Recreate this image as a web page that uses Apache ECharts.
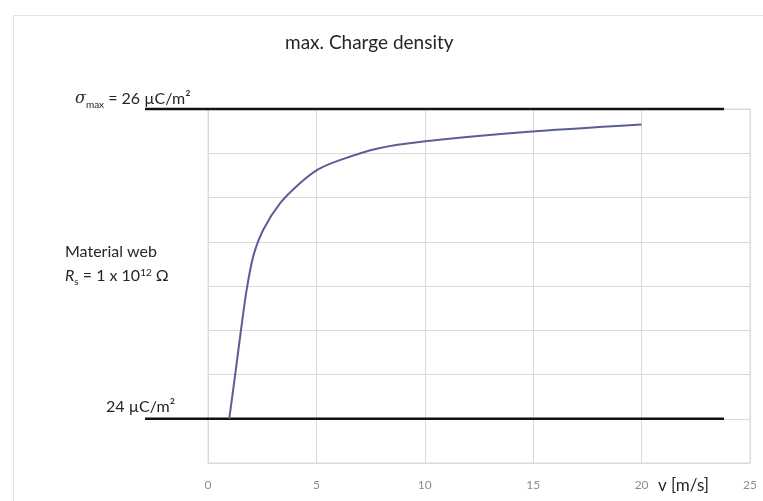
<!DOCTYPE html>
<html>
<head>
<meta charset="utf-8">
<title>max. Charge density</title>
<script src="https://cdn.jsdelivr.net/npm/echarts@6/dist/echarts.min.js"></script>
<style>
  html, body { margin: 0; padding: 0; background: #fff; }
  #chart { width: 763px; height: 501px; }
</style>
</head>
<body>
<div id="chart"></div>
<script>
// 曲线数据 v [m/s] -> 电荷密度 [µC/m²]
var speed  = [0.98, 1.24, 1.5, 1.78, 2.09, 2.55, 3.32, 4.24, 5.08, 6.08, 7.83, 9.92, 14.5, 20];
var charge = [24.00, 24.27, 24.55, 24.83, 25.05, 25.22, 25.39, 25.52, 25.61, 25.67, 25.745, 25.79, 25.85, 25.90];

// 两条参考线（26 和 24 µC/m²），左端伸出绘图区
var refX    = [-2.9, 23.8];
var refHigh = 26;
var refLow  = 24;

// x 轴刻度
var xTicks = [0, 5, 10, 15, 20, 25];

// y 轴网格：8 格，24 在第一条网格线上，26 在顶端
var yStep = 2 / 7;
var yMin  = 83 * yStep;
var yMax  = 26;

var chart = echarts.init(document.getElementById('chart'));

var curveData = speed.map(function (v, i) { return [v, charge[i]]; });

var txt = '#262626';
var font = 'Lato, "Open Sans", sans-serif';

function rt(size, extra) {
  var s = { fontFamily: font, fontSize: size, fontWeight: 'normal', color: txt, lineHeight: 20, verticalAlign: 'bottom' };
  for (var k in extra) { s[k] = extra[k]; }
  return s;
}

var option = {
  animation: false,
  backgroundColor: '#fff',
  graphic: [{
    type: 'rect',
    left: 11, top: 13,
    shape: { width: 760, height: 495 },
    style: { fill: 'none', stroke: '#e3e3e3', lineWidth: 1 },
    silent: true
  }],
  title: [{
    text: 'max. Charge density',
    left: 285, top: 33, padding: 0,
    textStyle: { fontFamily: font, fontSize: 19, fontWeight: 'normal', color: txt }
  }, {
    text: '{i|σ}{sub|max}{n| = 26 µC/m²}',
    left: 75, top: 87, padding: 0,
    textStyle: {
      fontWeight: 'normal',
      rich: {
        i: rt(16, { fontFamily: '"DejaVu Serif", serif', fontStyle: 'italic' }),
        sub: rt(10, { padding: [0, 0, -3, 0] }),
        n: rt(16, {})
      }
    }
  }, {
    text: 'Material web',
    left: 65, top: 244, padding: 0,
    textStyle: { fontFamily: font, fontSize: 16, fontWeight: 'normal', color: txt }
  }, {
    text: '{i|R}{sub|s}{n| = 1 x 10}{sup|12}{n| Ω}',
    left: 65, top: 264, padding: 0,
    textStyle: {
      fontWeight: 'normal',
      rich: {
        i: rt(16, { fontStyle: 'italic' }),
        sub: rt(10, { padding: [0, 0, -3, 0] }),
        sup: rt(10, { padding: [0, 0, 6, 0] }),
        n: rt(16, {})
      }
    }
  }, {
    text: '24 µC/m²',
    left: 106, top: 399, padding: 0,
    textStyle: { fontFamily: font, fontSize: 16, fontWeight: 'normal', color: txt }
  }, {
    text: 'v [m/s]',
    left: 658, top: 477, padding: 0,
    textStyle: { fontFamily: font, fontSize: 17, fontWeight: 'normal', color: txt }
  }],
  grid: [{
    left: 208, right: 13, top: 109, bottom: 38,
    show: true, borderColor: '#d9d9d9', borderWidth: 1
  }, {
    // 参考线用的网格：与主网格同比例，只是向左延伸到 -2.9
    left: 145, right: 13, top: 109, bottom: 38
  }],
  xAxis: [{
    type: 'value',
    gridIndex: 0,
    min: xTicks[0], max: xTicks[xTicks.length - 1], interval: 5,
    axisLine: { show: false },
    axisTick: { show: false },
    axisLabel: { color: '#8c8c8c', fontSize: 12, fontFamily: font, margin: 16 },
    splitLine: { show: true, lineStyle: { color: '#d9d9d9', width: 1 } }
  }, {
    type: 'value',
    gridIndex: 1,
    min: refX[0], max: xTicks[xTicks.length - 1],
    show: false
  }],
  yAxis: [{
    type: 'value',
    gridIndex: 0,
    min: yMin, max: yMax, interval: yStep,
    axisLine: { show: false },
    axisTick: { show: false },
    axisLabel: { show: false },
    splitLine: { show: true, lineStyle: { color: '#d9d9d9', width: 1 } }
  }, {
    type: 'value',
    gridIndex: 1,
    min: yMin, max: yMax,
    show: false
  }],
  series: [{
    name: 'max',
    type: 'line',
    xAxisIndex: 1, yAxisIndex: 1,
    clip: false,
    symbol: 'none',
    data: [[refX[0], refHigh], [refX[1], refHigh]],
    lineStyle: { color: '#111', width: 2.5 },
    z: 3
  }, {
    name: 'min',
    type: 'line',
    xAxisIndex: 1, yAxisIndex: 1,
    clip: false,
    symbol: 'none',
    data: [[refX[0], refLow], [refX[1], refLow]],
    lineStyle: { color: '#111', width: 2.5 },
    z: 3
  }, {
    name: 'curve',
    type: 'line',
    symbol: 'none',
    smooth: 0.3,
    data: curveData,
    lineStyle: { color: '#5a5e96', width: 2 },
    z: 4
  }]
};

chart.setOption(option);
</script>
</body>
</html>
